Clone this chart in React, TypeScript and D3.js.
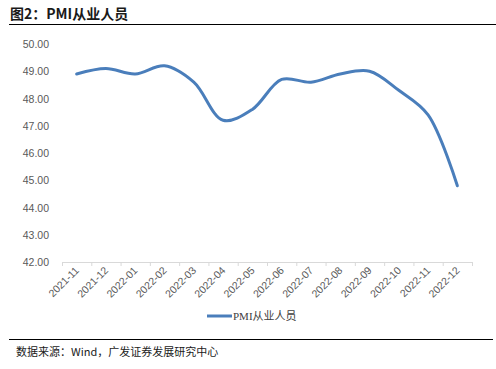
import React, { useEffect, useRef } from "react";
import * as d3 from "d3";

const months = [
  "2021-11", "2021-12", "2022-01", "2022-02", "2022-03", "2022-04", "2022-05",
  "2022-06", "2022-07", "2022-08", "2022-09", "2022-10", "2022-11", "2022-12",
];
const pmiEmployment = [48.9, 49.1, 48.9, 49.2, 48.6, 47.2, 47.6, 48.7, 48.6, 48.9, 49.0, 48.3, 47.4, 44.8];
const yTicks = [42, 43, 44, 45, 46, 47, 48, 49, 50];
const seriesName = "PMI从业人员";

const W = 496;
const H = 369;

const App = () => {
  const ref = useRef<SVGSVGElement>(null);

  useEffect(() => {
    const svg = d3.select(ref.current);
    svg.selectAll("*").remove();

    const left = 62;
    const right = 472;
    const top = 44;
    const bottom = 262;

    const x = d3.scaleBand().domain(months).range([left, right]);
    const y = d3.scaleLinear().domain([42, 50]).range([bottom, top]);

    // title
    svg.append("text")
      .attr("x", 10).attr("y", 19)
      .attr("font-family", "'Noto Sans CJK SC', sans-serif")
      .attr("font-size", 14).attr("font-weight", "bold")
      .attr("fill", "#1a1a1a")
      .text("图2：PMI从业人员");
    svg.append("line").attr("x1", 9).attr("x2", W).attr("y1", 24.5).attr("y2", 24.5)
      .attr("stroke", "#000").attr("stroke-width", 1.2);

    // y labels
    svg.append("g").selectAll("text").data(yTicks).join("text")
      .attr("x", 49).attr("y", (d) => y(d) + 4)
      .attr("text-anchor", "end")
      .attr("font-family", "Arial, 'Liberation Sans', sans-serif")
      .attr("font-size", 10.5).attr("fill", "#595959")
      .text((d) => d.toFixed(2));

    // x axis
    svg.append("line").attr("x1", left).attr("x2", right).attr("y1", bottom + 0.5).attr("y2", bottom + 0.5)
      .attr("stroke", "#d9d9d9");
    const bounds = months.map((m) => x(m)!).concat([right]);
    svg.append("g").selectAll("line").data(bounds).join("line")
      .attr("x1", (d) => d + 0.5).attr("x2", (d) => d + 0.5)
      .attr("y1", bottom).attr("y2", bottom + 4)
      .attr("stroke", "#d9d9d9");

    svg.append("g").selectAll("text").data(months).join("text")
      .attr("transform", (d) => `translate(${x(d)! + x.bandwidth() / 2 + 3},${bottom + 9}) rotate(-45)`)
      .attr("text-anchor", "end")
      .attr("font-family", "Arial, 'Liberation Sans', sans-serif")
      .attr("font-size", 10.5).attr("fill", "#595959")
      .text((d) => d);

    // line
    const line = d3.line<number>()
      .x((_, i) => x(months[i])! + x.bandwidth() / 2)
      .y((d) => y(d))
      .curve(d3.curveCatmullRom.alpha(0.5));
    svg.append("path").datum(pmiEmployment)
      .attr("d", line)
      .attr("fill", "none")
      .attr("stroke", "#4a7ebb")
      .attr("stroke-width", 3)
      .attr("stroke-linecap", "round");

    // legend
    svg.append("line").attr("x1", 207).attr("x2", 232).attr("y1", 316).attr("y2", 316)
      .attr("stroke", "#4a7ebb").attr("stroke-width", 3);
    svg.append("text")
      .attr("x", 233).attr("y", 320)
      .attr("font-family", "'Liberation Serif', 'Noto Sans CJK SC', serif")
      .attr("font-size", 11).attr("fill", "#404040")
      .text(seriesName);

    // bottom rule + source
    svg.append("line").attr("x1", 9).attr("x2", 493).attr("y1", 339.5).attr("y2", 339.5)
      .attr("stroke", "#000").attr("stroke-width", 1.2);
    svg.append("text")
      .attr("x", 16).attr("y", 356)
      .attr("font-family", "'Noto Sans CJK SC', sans-serif")
      .attr("font-size", 11).attr("fill", "#1a1a1a")
      .text("数据来源：Wind，广发证券发展研究中心");
  }, []);

  return (
    <div style={{ position: "absolute", left: 0, top: 0 }}>
      <svg ref={ref} width={W} height={H} style={{ display: "block", background: "#fff" }} />
    </div>
  );
};

export default App;
